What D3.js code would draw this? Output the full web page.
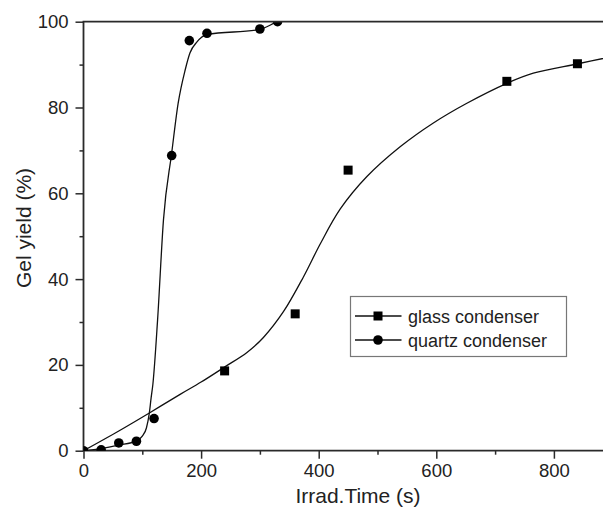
<!DOCTYPE html>
<html>
<head>
<meta charset="utf-8">
<script src="https://cdn.jsdelivr.net/npm/d3@7"></script>
<style>
  html, body { margin: 0; padding: 0; background: #fff; }
  svg { display: block; font-family: "Liberation Sans", Arial, sans-serif; }
</style>
</head>
<body>
<svg id="chart" width="603" height="509"></svg>
<script>
/* ── data ─────────────────────────────────────────────────── */

const xTicks = [0, 200, 400, 600, 800];
const xMinor = [100, 300, 500, 700];
const yTicks = [0, 20, 40, 60, 80, 100];
const yMinor = [10, 30, 50, 70, 90];

const seriesNames = ["glass condenser", "quartz condenser"];

// measured points
const glassTime   = [240, 360, 450, 720, 840];
const glassYield  = [18.6, 31.9, 65.4, 86.1, 90.2];
const quartzTime  = [0, 30, 60, 90, 120, 150, 180, 210, 300, 330];
const quartzYield = [0, 0.2, 1.8, 2.2, 7.5, 68.8, 95.6, 97.3, 98.3, 100];

// fitted curves
const glassFitTime  = [0, 60, 112, 165, 200, 241, 278, 306, 340, 374, 403, 437, 482, 539, 595, 652, 721, 765, 841, 900];
const glassFitYield = [0, 4.6, 8.8, 13.2, 16.0, 19.6, 22.9, 26.4, 32.4, 40.5, 48.3, 56.4, 63.9, 70.9, 76.4, 81.0, 85.7, 88.0, 90.2, 91.9];
const quartzFitTime  = [0, 30, 60, 90, 100, 107, 112, 115, 118, 126, 136, 150, 161, 173, 181, 193, 210, 300, 330, 360];
const quartzFitYield = [0, 0.5, 1.3, 2.3, 3.4, 5.3, 8.8, 12.3, 15.5, 30.5, 53.8, 69.4, 81.0, 88.8, 92.7, 95.3, 97.0, 98.2, 100, 101];

/* ── layout ───────────────────────────────────────────────── */

const X0 = 83.5, Y0 = 450.7, YTOP = 21.7;
const PX_PER_S = 0.588;

const x = d3.scaleLinear().domain([0, 900]).range([X0, X0 + 900 * PX_PER_S]);
const y = d3.scaleLinear().domain([0, 100]).range([Y0, YTOP]);

const svg = d3.select("#chart");
const axisColor = "#2a2a2a";

svg.append("defs").append("clipPath")
  .attr("id", "plot-clip")
  .append("rect")
  .attr("x", X0).attr("y", YTOP)
  .attr("width", 603 - X0).attr("height", Y0 - YTOP);

/* ── axes ─────────────────────────────────────────────────── */

function styleAxis(g) {
  g.select(".domain").remove();
  g.selectAll("line").attr("stroke", axisColor).attr("stroke-width", 1.5);
  g.selectAll("text")
    .attr("fill", "#222")
    .attr("font-size", 18.5)
    .attr("font-family", "Liberation Sans, Arial, sans-serif");
}

svg.append("g")
  .attr("transform", `translate(0,${Y0})`)
  .call(d3.axisBottom(x).tickValues(xTicks).tickSize(8).tickPadding(5).tickFormat(d3.format("d")))
  .call(styleAxis);

svg.append("g")
  .attr("transform", `translate(0,${Y0})`)
  .call(d3.axisBottom(x).tickValues(xMinor).tickSize(4).tickFormat(""))
  .call(styleAxis);

svg.append("g")
  .attr("transform", `translate(${X0},0)`)
  .call(d3.axisLeft(y).tickValues(yTicks).tickSize(8).tickPadding(7).tickFormat(d3.format("d")))
  .call(styleAxis);

svg.append("g")
  .attr("transform", `translate(${X0},0)`)
  .call(d3.axisLeft(y).tickValues(yMinor).tickSize(4).tickFormat(""))
  .call(styleAxis);

// frame lines: left, bottom
svg.append("path")
  .attr("d", `M${X0},${YTOP}V${Y0}H603`)
  .attr("fill", "none")
  .attr("stroke", axisColor)
  .attr("stroke-width", 1.8);

svg.append("text")
  .attr("x", 358)
  .attr("y", 503)
  .attr("text-anchor", "middle")
  .attr("font-size", 21)
  .attr("fill", "#222")
  .text("Irrad.Time (s)");

svg.append("text")
  .attr("transform", "translate(31,228) rotate(-90)")
  .attr("text-anchor", "middle")
  .attr("font-size", 21)
  .attr("fill", "#222")
  .text("Gel yield (%)");

/* ── curves + markers ─────────────────────────────────────── */

const plot = svg.append("g").attr("clip-path", "url(#plot-clip)");

const smoothLine = d3.line()
  .x(d => x(d[0]))
  .y(d => y(d[1]))
  .curve(d3.curveCatmullRom.alpha(0.5));

const stepLine = d3.line()
  .x(d => x(d[0]))
  .y(d => y(d[1]))
  .curve(d3.curveMonotoneX);

plot.append("path")
  .datum(d3.zip(glassFitTime, glassFitYield))
  .attr("d", smoothLine)
  .attr("fill", "none")
  .attr("stroke", "#111")
  .attr("stroke-width", 1.3);

plot.append("path")
  .datum(d3.zip(quartzFitTime, quartzFitYield))
  .attr("d", stepLine)
  .attr("fill", "none")
  .attr("stroke", "#111")
  .attr("stroke-width", 1.3);

const SQ = 9;
plot.selectAll("rect.glass")
  .data(d3.zip(glassTime, glassYield))
  .join("rect")
  .attr("class", "glass")
  .attr("x", d => x(d[0]) - SQ / 2)
  .attr("y", d => y(d[1]) - SQ / 2)
  .attr("width", SQ)
  .attr("height", SQ)
  .attr("fill", "#000");

plot.selectAll("circle.quartz")
  .data(d3.zip(quartzTime, quartzYield))
  .join("circle")
  .attr("class", "quartz")
  .attr("cx", d => x(d[0]))
  .attr("cy", d => y(d[1]))
  .attr("r", 4.8)
  .attr("fill", "#000");

// top frame line drawn over the clipped markers
svg.append("line")
  .attr("x1", X0 - 0.9).attr("x2", 603)
  .attr("y1", YTOP).attr("y2", YTOP)
  .attr("stroke", axisColor)
  .attr("stroke-width", 1.8);

/* ── legend ───────────────────────────────────────────────── */

const legend = svg.append("g");

legend.append("rect")
  .attr("x", 350.5).attr("y", 296.5)
  .attr("width", 216).attr("height", 60)
  .attr("fill", "#fff")
  .attr("stroke", "#777")
  .attr("stroke-width", 1.2);

seriesNames.forEach((name, i) => {
  const cy = 316 + i * 24;
  legend.append("line")
    .attr("x1", 355).attr("x2", 401.5)
    .attr("y1", cy).attr("y2", cy)
    .attr("stroke", "#111")
    .attr("stroke-width", 1.3);
  if (i === 0) {
    legend.append("rect")
      .attr("x", 378 - SQ / 2).attr("y", cy - SQ / 2)
      .attr("width", SQ).attr("height", SQ)
      .attr("fill", "#000");
  } else {
    legend.append("circle")
      .attr("cx", 378).attr("cy", cy).attr("r", 4.8)
      .attr("fill", "#000");
  }
  legend.append("text")
    .attr("x", 408)
    .attr("y", cy + 6.5)
    .attr("font-size", 18)
    .attr("fill", "#222")
    .text(name);
});
</script>
</body>
</html>
